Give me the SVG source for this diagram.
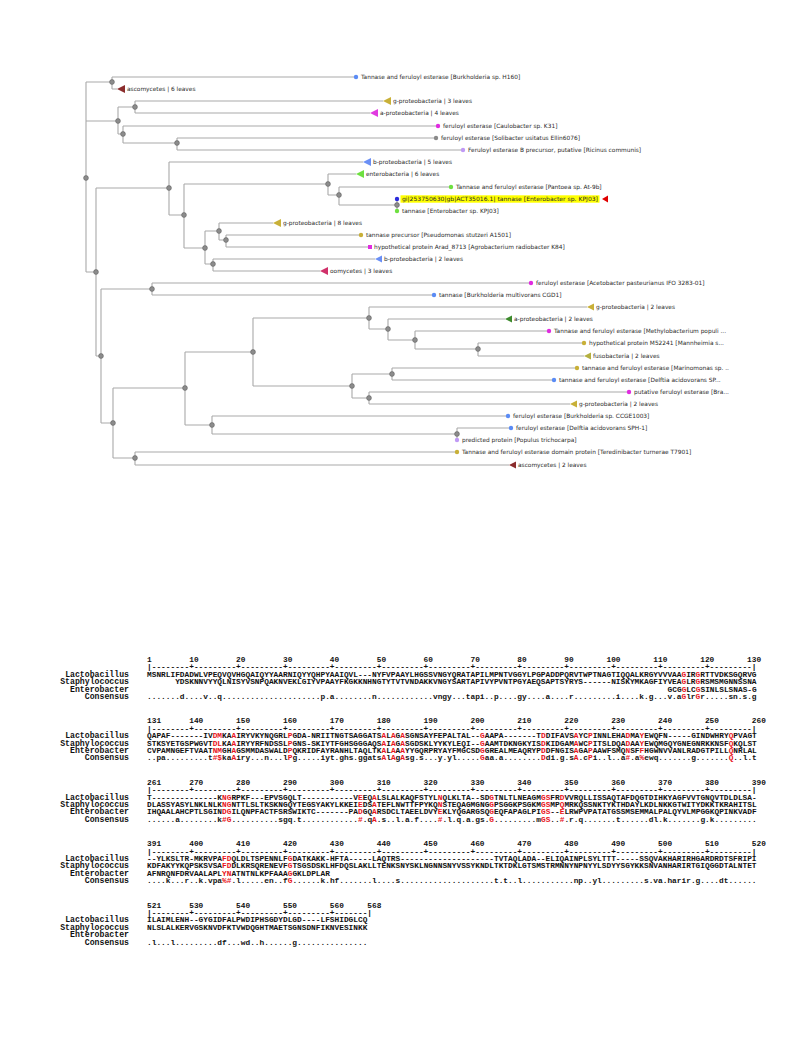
<svg xmlns="http://www.w3.org/2000/svg" width="793" height="1057" viewBox="0 0 793 1057">
<style>
.br{fill:none;stroke:#a9a9a9;stroke-width:1.1}
.nd{fill:#8c8c8c;stroke:#606060;stroke-width:0.6}
.lb{font-family:"DejaVu Sans",sans-serif;font-size:5.85px;fill:#2a2a2a}
.sq{font-family:"Liberation Mono",monospace;font-weight:bold;font-size:7.82px;fill:#111;white-space:pre}
.nm{font-family:"Liberation Mono",monospace;font-weight:bold;font-size:8.2px;fill:#111;text-anchor:end}
.r{fill:#e8141c}
</style>
<rect width="793" height="1057" fill="#fff"/>
<g id="connectors" class="br">
<path d="M86,82V272M86,82H112M86,121H118M86,272H96"/>
<path d="M112,77V89M112,77H356M112,89H117"/>
<path d="M118,107V134M118,107H135M118,134H123"/>
<path d="M135,101V113M135,101H383M135,113H370"/>
<path d="M123,126V143M123,126H438M123,143H177"/>
<path d="M177,138V150M177,138H436M177,150H463"/>
<path d="M96,188V356M96,188H169M96,356H101"/>
<path d="M169,162V215M169,162H363M169,215H184"/>
<path d="M184,184V248M184,184H328M184,248H205"/>
<path d="M328,174V195M328,174H356M328,195H339"/>
<path d="M339,187V205M339,187H451M339,205H397"/>
<path d="M397,199V211"/>
<path d="M205,231V264M205,231H219M205,264H213"/>
<path d="M219,223V240M219,223H273M219,240H226"/>
<path d="M226,235V247M226,235H361M226,247H370"/>
<path d="M213,259V271M213,259H375M213,271H320"/>
<path d="M101,289V423M101,289H152M101,423H113"/>
<path d="M152,283V295M152,283H531M152,295H434"/>
<path d="M113,388V458M113,388H185M113,458H135"/>
<path d="M185,352V425M185,352H253M185,425H212"/>
<path d="M253,318V386M253,318H369M253,386H352"/>
<path d="M369,307V329M369,307H587M369,329H388"/>
<path d="M388,319V340M388,319H505M388,340H415"/>
<path d="M415,331V349M415,331H549M415,349H478"/>
<path d="M478,343V356M478,343H584M478,356H584"/>
<path d="M352,374V398M352,374H392M352,398H369"/>
<path d="M392,368V380M392,368H577M392,380H554"/>
<path d="M369,392V404M369,392H629M369,404H570"/>
<path d="M212,416V434M212,416H508M212,434H457"/>
<path d="M457,428V440M457,428H511"/>
<path d="M135,452V465M135,452H457M135,465H509"/>
</g>
<g id="internal-nodes">
<g id="n-root"><circle class="nd" cx="86" cy="178" r="2.4"/></g>
<g id="n-a"><circle class="nd" cx="112" cy="82" r="2.4"/></g>
<g id="n-b"><circle class="nd" cx="118" cy="121" r="2.4"/></g>
<g id="n-b1"><circle class="nd" cx="135" cy="107" r="2.4"/></g>
<g id="n-b2"><circle class="nd" cx="123" cy="134" r="2.4"/></g>
<g id="n-b3"><circle class="nd" cx="177" cy="143" r="2.4"/></g>
<g id="n-c"><circle class="nd" cx="96" cy="272" r="2.4"/></g>
<g id="n-d"><circle class="nd" cx="169" cy="188" r="2.4"/></g>
<g id="n-h"><circle class="nd" cx="184" cy="215" r="2.4"/></g>
<g id="n-i"><circle class="nd" cx="328" cy="184" r="2.4"/></g>
<g id="n-k"><circle class="nd" cx="339" cy="195" r="2.4"/></g>
<g id="n-l"><circle class="nd" cx="397" cy="205" r="2.4"/></g>
<g id="n-j"><circle class="nd" cx="205" cy="248" r="2.4"/></g>
<g id="n-m"><circle class="nd" cx="219" cy="231" r="2.4"/></g>
<g id="n-o"><circle class="nd" cx="226" cy="240" r="2.4"/></g>
<g id="n-n"><circle class="nd" cx="213" cy="264" r="2.4"/></g>
<g id="n-e"><circle class="nd" cx="101" cy="356" r="2.4"/></g>
<g id="n-f"><circle class="nd" cx="152" cy="289" r="2.4"/></g>
<g id="n-g"><circle class="nd" cx="113" cy="423" r="2.4"/></g>
<g id="n-p"><circle class="nd" cx="185" cy="388" r="2.4"/></g>
<g id="n-r"><circle class="nd" cx="253" cy="352" r="2.4"/></g>
<g id="n-t"><circle class="nd" cx="369" cy="318" r="2.4"/></g>
<g id="n-t2"><circle class="nd" cx="388" cy="329" r="2.4"/></g>
<g id="n-v"><circle class="nd" cx="415" cy="340" r="2.4"/></g>
<g id="n-w"><circle class="nd" cx="478" cy="349" r="2.4"/></g>
<g id="n-u"><circle class="nd" cx="352" cy="386" r="2.4"/></g>
<g id="n-u1"><circle class="nd" cx="392" cy="374" r="2.4"/></g>
<g id="n-z"><circle class="nd" cx="369" cy="398" r="2.4"/></g>
<g id="n-s"><circle class="nd" cx="212" cy="425" r="2.4"/></g>
<g id="n-y"><circle class="nd" cx="457" cy="434" r="2.4"/></g>
<g id="n-q"><circle class="nd" cx="135" cy="458" r="2.4"/></g>
</g>
<g id="leaves">
<g id="leaf1"><circle cx="356" cy="77" r="2.2" fill="#5b8cf5"/><text class="lb" x="361" y="79">Tannase and feruloyl esterase [Burkholderia sp. H160]</text></g>
<g id="leaf2"><polygon points="117,89 125,85 125,93" fill="#8b2d2d"/><text class="lb" x="127" y="91">ascomycetes | 6 leaves</text></g>
<g id="leaf3"><polygon points="383,101 391,97 391,105" fill="#c8b038"/><text class="lb" x="393" y="103">g-proteobacteria | 3 leaves</text></g>
<g id="leaf4"><polygon points="370,113 378,109 378,117" fill="#e03be0"/><text class="lb" x="380" y="115">a-proteobacteria | 4 leaves</text></g>
<g id="leaf5"><circle cx="438" cy="126" r="2.2" fill="#e02ce0"/><text class="lb" x="443" y="128">feruloyl esterase [Caulobacter sp. K31]</text></g>
<g id="leaf6"><circle cx="436" cy="138" r="2.2" fill="#8a8a8a"/><text class="lb" x="441" y="140">feruloyl esterase [Solibacter usitatus Ellin6076]</text></g>
<g id="leaf7"><circle cx="463" cy="150" r="2.2" fill="#c09af5"/><text class="lb" x="468" y="152">Feruloyl esterase B precursor, putative [Ricinus communis]</text></g>
<g id="leaf8"><polygon points="363,162 371,158 371,166" fill="#6a8ff5"/><text class="lb" x="373" y="164">b-proteobacteria | 5 leaves</text></g>
<g id="leaf9"><polygon points="356,174 364,170 364,178" fill="#6ee040"/><text class="lb" x="366" y="176">enterobacteria | 6 leaves</text></g>
<g id="leaf10"><circle cx="451" cy="187" r="2.2" fill="#6ee040"/><text class="lb" x="456" y="189">Tannase and feruloyl esterase [Pantoea sp. At-9b]</text></g>
<g id="leaf11"><rect x="400.5" y="195.3" width="199" height="7.4" fill="#ffff00"/><circle cx="397" cy="199" r="2.2" fill="#2b2bdc"/><text class="lb" x="402" y="201" textLength="196" lengthAdjust="spacingAndGlyphs">gi|253750630|gb|ACT35016.1| tannase [Enterobacter sp. KPJ03]</text><polygon points="602,199 608,195.5 608,202.5" fill="#e00000"/></g>
<g id="leaf12"><circle cx="397" cy="211" r="2.2" fill="#6ee040"/><text class="lb" x="402" y="213">tannase [Enterobacter sp. KPJ03]</text></g>
<g id="leaf13"><polygon points="273,223 281,219 281,227" fill="#c8b038"/><text class="lb" x="283" y="225">g-proteobacteria | 8 leaves</text></g>
<g id="leaf14"><circle cx="361" cy="235" r="2.2" fill="#c8b038"/><text class="lb" x="366" y="237">tannase precursor [Pseudomonas stutzeri A1501]</text></g>
<g id="leaf15"><rect x="368" y="245" width="4" height="4" fill="#e02ce0"/><text class="lb" x="374" y="249">hypothetical protein Arad_8713 [Agrobacterium radiobacter K84]</text></g>
<g id="leaf16"><polygon points="375,259 382,255.5 382,262.5" fill="#6a8ff5"/><text class="lb" x="384" y="261">b-proteobacteria | 2 leaves</text></g>
<g id="leaf17"><polygon points="320,271 328,267 328,275" fill="#d0306a"/><text class="lb" x="330" y="273">oomycetes | 3 leaves</text></g>
<g id="leaf18"><circle cx="531" cy="283" r="2.2" fill="#e02ce0"/><text class="lb" x="536" y="285">feruloyl esterase [Acetobacter pasteurianus IFO 3283-01]</text></g>
<g id="leaf19"><circle cx="434" cy="295" r="2.2" fill="#5b8cf5"/><text class="lb" x="439" y="297">tannase [Burkholderia multivorans CGD1]</text></g>
<g id="leaf20"><polygon points="587,307 594,303.5 594,310.5" fill="#c8b038"/><text class="lb" x="596" y="309">g-proteobacteria | 2 leaves</text></g>
<g id="leaf21"><polygon points="505,319 512,315.5 512,322.5" fill="#3c8a2c"/><text class="lb" x="514" y="321">a-proteobacteria | 2 leaves</text></g>
<g id="leaf22"><circle cx="549" cy="331" r="2.2" fill="#e02ce0"/><text class="lb" x="554" y="333">Tannase and feruloyl esterase [Methylobacterium populi ...</text></g>
<g id="leaf23"><circle cx="584" cy="343" r="2.2" fill="#c8b038"/><text class="lb" x="589" y="345">hypothetical protein M52241 [Mannheimia s...</text></g>
<g id="leaf24"><polygon points="584,356 591,352.5 591,359.5" fill="#b4b040"/><text class="lb" x="593" y="358">fusobacteria | 2 leaves</text></g>
<g id="leaf25"><circle cx="577" cy="368" r="2.2" fill="#c8b038"/><text class="lb" x="582" y="370">tannase and feruloyl esterase [Marinomonas sp. ..</text></g>
<g id="leaf26"><circle cx="554" cy="380" r="2.2" fill="#5b8cf5"/><text class="lb" x="559" y="382">tannase and feruloyl esterase [Delftia acidovorans SP...</text></g>
<g id="leaf27"><circle cx="629" cy="392" r="2.2" fill="#e02ce0"/><text class="lb" x="634" y="394">putative feruloyl esterase [Bra...</text></g>
<g id="leaf28"><polygon points="570,404 577,400.5 577,407.5" fill="#c8b038"/><text class="lb" x="579" y="406">g-proteobacteria | 2 leaves</text></g>
<g id="leaf29"><circle cx="508" cy="416" r="2.2" fill="#5b8cf5"/><text class="lb" x="513" y="418">feruloyl esterase [Burkholderia sp. CCGE1003]</text></g>
<g id="leaf30"><circle cx="511" cy="428" r="2.2" fill="#5b8cf5"/><text class="lb" x="516" y="430">feruloyl esterase [Delftia acidovorans SPH-1]</text></g>
<g id="leaf31"><circle cx="457" cy="440" r="2.2" fill="#c09af5"/><text class="lb" x="462" y="442">predicted protein [Populus trichocarpa]</text></g>
<g id="leaf32"><circle cx="457" cy="452" r="2.2" fill="#c8b038"/><text class="lb" x="462" y="454">Tannase and feruloyl esterase domain protein [Teredinibacter turnerae T7901]</text></g>
<g id="leaf33"><polygon points="509,465 516,461.5 516,468.5" fill="#8b2d2d"/><text class="lb" x="518" y="467">ascomycetes | 2 leaves</text></g>
</g>
<g id="alignment">
<g id="block1">
<text class="sq" x="147" y="662">1        10        20        30        40        50        60        70        80        90       100       110       120       130</text>
<text class="sq" x="147" y="669.4">|--------+---------+---------+---------+---------+---------+---------+---------+---------+---------+---------+---------+---------|</text>
<text class="nm" x="129" y="676.8">Lactobacillus</text>
<text class="nm" x="129" y="684.2">Staphylococcus</text>
<text class="nm" x="129" y="691.6">Enterobacter</text>
<text class="nm" x="129" y="699">Consensus</text>
<text class="sq" x="147" y="676.8">MSNRLIFDADWLVPEQVQVHGQAIQYYAARNIQYYQHPYAAIQVL---NYFVPAAYLHGSSVNGYQRATAPILMPNTVGGYLPGPADDPQRVTWPTNAGTIQQALKRGYVVVAA<tspan class="r">G</tspan>IR<tspan class="r">G</tspan>RTTVDKSGQRVG</text>
<text class="sq" x="175.14" y="684.2">YDSKNNVYYQLNISYVSNPQAKNVEKLGIYVPAAYFKGKKNHNGTYTVTVNDAKKVNGYSARTAPIVYPVNTPGYAEQSAPTSYRYS------NISKYMKAGFIYVEA<tspan class="r">G</tspan>LR<tspan class="r">G</tspan>RSMSMGNNSSNA</text>
<text class="sq" x="667.59" y="691.6">GCG<tspan class="r">G</tspan>LC<tspan class="r">G</tspan>SINLSLSNAS-G</text>
<text class="sq" x="147" y="699">.......d....v..q.....................p.a........n............vngy...tapi..p....gy....a....r.........i....k.g...v.a<tspan class="r">G</tspan>lr<tspan class="r">G</tspan>r.....sn.s.g</text>
</g>
<g id="block2">
<text class="sq" x="147" y="723.4">131      140       150       160       170       180       190       200       210       220       230       240       250       260</text>
<text class="sq" x="147" y="730.8">|--------+---------+---------+---------+---------+---------+---------+---------+---------+---------+---------+---------+---------|</text>
<text class="nm" x="129" y="738.2">Lactobacillus</text>
<text class="nm" x="129" y="745.6">Staphylococcus</text>
<text class="nm" x="129" y="753">Enterobacter</text>
<text class="nm" x="129" y="760.4">Consensus</text>
<text class="sq" x="147" y="738.2">QAPAF-------IV<tspan class="r">DM</tspan>KA<tspan class="r">A</tspan>IRYVKYNQGRL<tspan class="r">P</tspan>GDA-NRIITNGTSAGGATS<tspan class="r">A</tspan>L<tspan class="r">A</tspan>G<tspan class="r">A</tspan>SGNSAYFEPALTAL--<tspan class="r">G</tspan>AAPA-------T<tspan class="r">D</tspan>DIFAVS<tspan class="r">A</tspan>YC<tspan class="r">P</tspan>INNLEHA<tspan class="r">D</tspan>MA<tspan class="r">Y</tspan>EWQFN-----GINDWHRY<tspan class="r">Q</tspan>PVAGT</text>
<text class="sq" x="147" y="745.6">STKSYETGSPWGVT<tspan class="r">DL</tspan>KA<tspan class="r">A</tspan>IRYYRFNDSSL<tspan class="r">P</tspan>GNS-SKIYTFGHSGGGAQS<tspan class="r">A</tspan>I<tspan class="r">A</tspan>G<tspan class="r">A</tspan>SGDSKLYYKYLEQI--<tspan class="r">G</tspan>AAMTDKNGKYIS<tspan class="r">D</tspan>KIDGAM<tspan class="r">A</tspan>WC<tspan class="r">P</tspan>ITSLDQA<tspan class="r">D</tspan>AA<tspan class="r">Y</tspan>EWQMGQYGNEGNRKKNSF<tspan class="r">Q</tspan>KQLST</text>
<text class="sq" x="147" y="753">CVPAMNGEFTVAAT<tspan class="r">NM</tspan>GH<tspan class="r">A</tspan>GSMMDASWALD<tspan class="r">P</tspan>QKRIDFAYRANHLTAQLTK<tspan class="r">A</tspan>L<tspan class="r">A</tspan>A<tspan class="r">A</tspan>YYGQRPRYAYFMGCSD<tspan class="r">G</tspan>GREALMEAQRYP<tspan class="r">D</tspan>DFNGIS<tspan class="r">A</tspan>GA<tspan class="r">P</tspan>AAWFSMQ<tspan class="r">N</tspan>SF<tspan class="r">F</tspan>HGWNVVANLRADGTPILL<tspan class="r">Q</tspan>NRLAL</text>
<text class="sq" x="147" y="760.4">..pa.........t<tspan class="r">#$</tspan>ka<tspan class="r">A</tspan>iry...n...l<tspan class="r">P</tspan>g.....iyt.ghs.ggats<tspan class="r">A</tspan>l<tspan class="r">A</tspan>g<tspan class="r">A</tspan>sg.s...y.yl.....<tspan class="r">G</tspan>aa.a........<tspan class="r">D</tspan>di.g.s<tspan class="r">A</tspan>.c<tspan class="r">P</tspan>i..l..a<tspan class="r">#</tspan>.a<tspan class="r">%</tspan>ewq.......g.......<tspan class="r">Q</tspan>..l.t</text>
</g>
<g id="block3">
<text class="sq" x="147" y="784.8">261      270       280       290       300       310       320       330       340       350       360       370       380       390</text>
<text class="sq" x="147" y="792.2">|--------+---------+---------+---------+---------+---------+---------+---------+---------+---------+---------+---------+---------|</text>
<text class="nm" x="129" y="799.6">Lactobacillus</text>
<text class="nm" x="129" y="807">Staphylococcus</text>
<text class="nm" x="129" y="814.4">Enterobacter</text>
<text class="nm" x="129" y="821.8">Consensus</text>
<text class="sq" x="147" y="799.6">T--------------K<tspan class="r">NG</tspan>RPKF---EPVSGQLT-----------V<tspan class="r">E</tspan>EQ<tspan class="r">A</tspan>LSLALKAQFSTYL<tspan class="r">N</tspan>QLKLTA--SD<tspan class="r">G</tspan>TNLTLNEAGM<tspan class="r">GS</tspan>FR<tspan class="r">D</tspan>VVRQLLISSAQTAFDQGTDIHKYAGFVVTGNQVTDLDLSA-</text>
<text class="sq" x="147" y="807">DLASSYASYLNKLNLK<tspan class="r">NG</tspan>NTTLSLTKSKNGQYTEGSYAKYLKKEI<tspan class="r">E</tspan>DS<tspan class="r">A</tspan>TEFLNWTTFPYKQ<tspan class="r">N</tspan>STEQAGMGNG<tspan class="r">G</tspan>PSGGKPSGKM<tspan class="r">GS</tspan>MP<tspan class="r">Q</tspan>MRKQSSNKTYKTHDAYLKDLNKKGTWITYDKKTKRAHITSL</text>
<text class="sq" x="147" y="814.4">IHQAALAHCPTLSGIN<tspan class="r">DG</tspan>ILQNPFACTFSRSWIKTC-------PA<tspan class="r">D</tspan>GQ<tspan class="r">A</tspan>RSDCLTAEELDVY<tspan class="r">E</tspan>KLYQGARGSQ<tspan class="r">G</tspan>EQFAPAGLPI<tspan class="r">GS</tspan>--<tspan class="r">E</tspan>LRWPVPATATGSSMSEMMALPALQYVLMPGGKQPINKVADF</text>
<text class="sq" x="147" y="821.8">......a........k<tspan class="r">#G</tspan>..........sgq.t............<tspan class="r">#</tspan>.q<tspan class="r">A</tspan>.s..l.a.f....<tspan class="r">#</tspan>.l.q.a.gs.<tspan class="r">G</tspan>.........m<tspan class="r">GS</tspan>..<tspan class="r">#</tspan>.r.q.......t......dl.k.......g.k.........</text>
</g>
<g id="block4">
<text class="sq" x="147" y="846.2">391      400       410       420       430       440       450       460       470       480       490       500       510       520</text>
<text class="sq" x="147" y="853.6">|--------+---------+---------+---------+---------+---------+---------+---------+---------+---------+---------+---------+---------|</text>
<text class="nm" x="129" y="861">Lactobacillus</text>
<text class="nm" x="129" y="868.4">Staphylococcus</text>
<text class="nm" x="129" y="875.8">Enterobacter</text>
<text class="nm" x="129" y="883.2">Consensus</text>
<text class="sq" x="147" y="861">--YLKSLTR-MKRVPA<tspan class="r">FD</tspan>QLDLTSPENNLF<tspan class="r">G</tspan>DATKAKK-HFTA-----LAQTRS--------------------TVTAQLADA--ELIQAINPLSYLTTT-----SSQVAKHARIRHGARDRDTSFRIPI</text>
<text class="sq" x="147" y="868.4">KDFAKYYKQPSKSVSA<tspan class="r">FD</tspan>DLKRSQRENEVF<tspan class="r">G</tspan>TSGSDSKLHFDQSLAKLLTENKSNYSKLNGNNSNYVSSYKNDLTKTDKLGTSMSTRMNNYNPNYYLSDYYSGYKKSNVANHARIRTGIQGGDTALNTET</text>
<text class="sq" x="147" y="875.8">AFNRQNFDRVAALAPL<tspan class="r">YN</tspan>ATNTNLKPFAAA<tspan class="r">G</tspan>GKLDPLAR</text>
<text class="sq" x="147" y="883.2">....k...r..k.vpa<tspan class="r">%#</tspan>.l.....en..f<tspan class="r">G</tspan>......k.hf.......l....s....................t.t..l...........np..yl.........s.va.harir.g....dt......</text>
</g>
<g id="block5">
<text class="sq" x="147" y="907.6">521      530       540       550       560     568</text>
<text class="sq" x="147" y="915">|--------+---------+---------+---------+-------|</text>
<text class="nm" x="129" y="922.4">Lactobacillus</text>
<text class="nm" x="129" y="929.8">Staphylococcus</text>
<text class="nm" x="129" y="937.2">Enterobacter</text>
<text class="nm" x="129" y="944.6">Consensus</text>
<text class="sq" x="147" y="922.4">ILAIMLENH--GYGIDFALPWDIPHSGDYDLGD----LFSHIDGLCQ</text>
<text class="sq" x="147" y="929.8">NLSLALKERVGSKNVDFKTVWDQGHTMAETSGNSDNFIKNVESINKK</text>
<text class="sq" x="147" y="944.6">.l...l.........df...wd..h......g...............</text>
</g>
</g>
</svg>
